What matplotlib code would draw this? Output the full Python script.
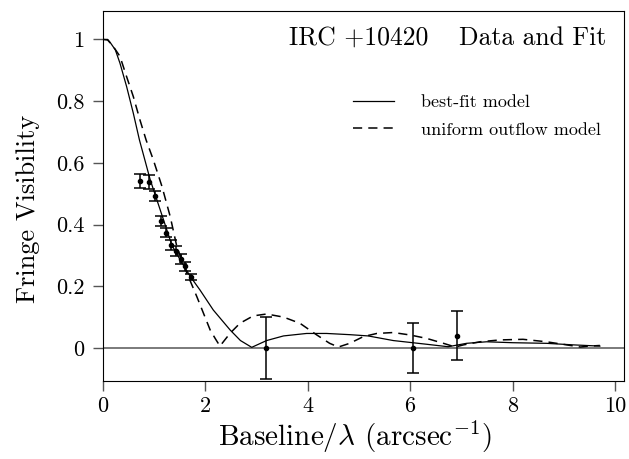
import matplotlib
matplotlib.use("Agg")
import matplotlib.pyplot as plt

plt.rcParams['font.family'] = ['cmr10', 'DejaVu Serif']
plt.rcParams['mathtext.fontset'] = 'cm'
plt.rcParams['axes.unicode_minus'] = False
plt.rcParams['axes.formatter.use_mathtext'] = True

# Observed data
obs_x = [0.73, 0.91, 1.03, 1.14, 1.23, 1.33, 1.43, 1.53, 1.61, 1.72, 3.18, 6.06, 6.92]
obs_y = [0.541, 0.537, 0.493, 0.412, 0.374, 0.334, 0.315, 0.287, 0.264, 0.231, 0.0, 0.0, 0.04]
obs_err = [0.022, 0.022, 0.016, 0.016, 0.016, 0.016, 0.016, 0.016, 0.014, 0.01, 0.10, 0.08, 0.08]

# Best-fit model (solid)
fit_x = [0, 0.1, 0.15, 0.25, 0.34, 0.47, 0.60, 0.72, 0.80, 0.93, 1.04, 1.19, 1.35,
         1.50, 1.71, 1.90, 2.16, 2.49, 2.69, 2.91, 3.2, 3.53, 3.98, 4.37, 4.83, 5.18,
         5.67, 6.32, 6.74, 7.1, 7.49, 8.0, 8.66, 9.18, 9.7]
fit_y = [1.0, 1.0, 0.99, 0.966, 0.923, 0.847, 0.761, 0.674, 0.625, 0.545, 0.49, 0.415, 0.334,
         0.29, 0.232, 0.188, 0.123, 0.058, 0.024, 0.002, 0.024, 0.039, 0.047, 0.047, 0.043, 0.039,
         0.024, 0.012, 0.004, 0.015, 0.02, 0.017, 0.015, 0.01, 0.006]

# Uniform outflow model (dashed)
uni_x = [0, 0.1, 0.21, 0.34, 0.47, 0.60, 0.73, 0.85, 0.99, 1.16, 1.32, 1.45, 1.64, 1.84,
         1.97, 2.10, 2.2, 2.29, 2.38, 2.49, 2.68, 2.94, 3.2, 3.53, 3.85, 4.18, 4.43, 4.6,
         4.82, 5.09, 5.35, 5.67, 6.0, 6.32, 6.65, 6.88, 7.04, 7.36, 7.75, 8.2, 8.66, 9.05,
         9.32, 9.5, 9.7]
uni_y = [1.0, 0.998, 0.977, 0.945, 0.879, 0.815, 0.739, 0.674, 0.61, 0.523, 0.426, 0.328,
         0.245, 0.166, 0.112, 0.058, 0.03, 0.006, 0.025, 0.048, 0.08, 0.104, 0.11, 0.10, 0.08,
         0.042, 0.015, 0.003, 0.015, 0.037, 0.047, 0.05, 0.042, 0.031, 0.015, 0.003, 0.01, 0.02,
         0.026, 0.028, 0.02, 0.01, 0.003, 0.006, 0.008]

xticks = [0, 2, 4, 6, 8, 10]
yticks = [0, 0.2, 0.4, 0.6, 0.8, 1]
ytick_labels = ['0', '0.2', '0.4', '0.6', '0.8', '1']

fig = plt.figure(figsize=(6.29, 4.59), dpi=100)
ax = fig.add_axes([0.163, 0.170, 0.829, 0.806])

ax.axhline(0, color='#707070', lw=1.3, zorder=1)
ax.plot(fit_x, fit_y, color='black', lw=0.9, label='best-fit model')
ax.plot(uni_x, uni_y, color='black', lw=1.1, dashes=(6, 4), label='uniform outflow model')
ax.errorbar(obs_x, obs_y, yerr=obs_err, fmt='o', color='black', ms=3, capsize=4,
            elinewidth=1.1, capthick=1.1)

ax.set_xlim(0, 10.17)
ax.set_ylim(-0.107, 1.092)
ax.set_xticks(xticks)
ax.set_xticklabels([str(t) for t in xticks])
ax.set_yticks(yticks)
ax.set_yticklabels(ytick_labels)
ax.tick_params(direction='out', length=7, width=1, color='#555555', labelsize=16)
ax.tick_params(axis='y', pad=6)
ax.tick_params(axis='x', pad=4)

ax.set_xlabel(r'Baseline/$\lambda$ (arcsec$^{-1}$)', fontsize=21)
ax.xaxis.set_label_coords(0.484, -0.102)
ax.set_ylabel('Fringe Visibility', fontsize=19)
ax.yaxis.set_label_coords(-0.12, 0.465)

ax.text(0.357, 0.908, 'IRC +10420', transform=ax.transAxes, fontsize=18.5, va='baseline')
ax.text(0.684, 0.908, 'Data and Fit', transform=ax.transAxes, fontsize=18.5, va='baseline')

ax.legend(loc='upper left', bbox_to_anchor=(0.48, 0.774), frameon=False, fontsize=13,
          handlelength=2.3, handletextpad=1.5, labelspacing=0.65, borderpad=0, borderaxespad=0)

fig.savefig('out.png', dpi=100)
